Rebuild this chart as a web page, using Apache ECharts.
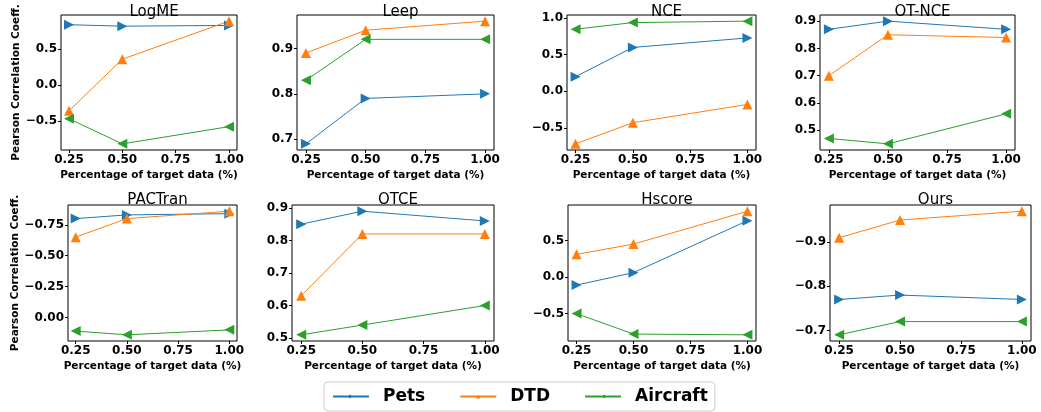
<!DOCTYPE html>
<html>
<head>
<meta charset="utf-8">
<script src="https://cdn.jsdelivr.net/npm/echarts@6/dist/echarts.min.js"></script>
<style>
  html, body { margin: 0; padding: 0; background: #fff; }
  #chart { width: 1041px; height: 412px; }
</style>
</head>
<body>
<div id="chart"></div>
<script>
// 横轴：目标数据比例
const fractions = [0.25, 0.5, 1.0];
const xTicks = [0.25, 0.5, 0.75, 1.0];
const methods = ['LogME', 'Leep', 'NCE', 'OT-NCE', 'PACTran', 'OTCE', 'Hscore', 'Ours'];

// 每个方法三个点
const petsValues = [
  [0.84, 0.82, 0.83],
  [0.69, 0.79, 0.80],
  [0.20, 0.60, 0.73],
  [0.87, 0.90, 0.87],
  [-0.80, -0.83, -0.84],
  [0.85, 0.89, 0.86],
  [-0.11, 0.06, 0.77],
  [-0.77, -0.78, -0.77]
];
const dtdValues = [
  [-0.36, 0.36, 0.89],
  [0.89, 0.94, 0.96],
  [-0.72, -0.43, -0.18],
  [0.70, 0.85, 0.84],
  [-0.65, -0.80, -0.86],
  [0.63, 0.82, 0.82],
  [0.31, 0.45, 0.90],
  [-0.91, -0.95, -0.97]
];
const aircraftValues = [
  [-0.47, -0.82, -0.58],
  [0.83, 0.92, 0.92],
  [0.85, 0.94, 0.96],
  [0.47, 0.45, 0.56],
  [0.11, 0.14, 0.10],
  [0.51, 0.54, 0.60],
  [-0.50, -0.78, -0.79],
  [-0.69, -0.72, -0.72]
];

// y轴刻度
const yTicks = [
  [-0.5, 0, 0.5],
  [0.7, 0.8, 0.9],
  [-0.5, 0, 0.5, 1.0],
  [0.5, 0.6, 0.7, 0.8, 0.9],
  [-0.75, -0.5, -0.25, 0],
  [0.5, 0.6, 0.7, 0.8, 0.9],
  [-0.5, 0, 0.5],
  [-0.9, -0.8, -0.7]
];
const yDecimals = [1, 1, 1, 1, 2, 1, 1, 1];
const yInverse = [false, false, false, false, true, false, false, true];

// 子图位置
const boxes = [
  [61, 15, 176, 135], [297, 15, 197, 135], [567, 15, 189, 135], [820, 15, 195, 135],
  [68, 205, 169, 136], [292, 205, 202, 136], [568, 205, 188, 136], [830, 205, 201, 136]
];

const FONT = 'DejaVu Sans';
const seriesDefs = [
  { name: 'Pets', color: '#1f77b4', rotate: -90, values: petsValues },
  { name: 'DTD', color: '#ff7f0e', rotate: 0, values: dtdValues },
  { name: 'Aircraft', color: '#2ca02c', rotate: 90, values: aircraftValues }
];

function fmt(v, d) {
  return (v < 0 ? '\u2212' : '') + Math.abs(v).toFixed(d);
}

let grids = [], xAxes = [], yAxes = [], titles = [], series = [];
for (let i = 0; i < methods.length; i++) {
  const b = boxes[i];
  grids.push({
    left: b[0], top: b[1], width: b[2], height: b[3],
    show: true, borderColor: '#000', borderWidth: 1, backgroundColor: 'transparent'
  });
  titles.push({
    text: methods[i], left: b[0] + b[2] / 2, top: i < 4 ? 0 : 188, textAlign: 'center',
    textStyle: { fontFamily: FONT, fontSize: 15, fontWeight: 'normal', color: '#000' }
  });
  xAxes.push({
    type: 'value', gridIndex: i, min: 0.2125, max: 1.0375,
    axisLine: { show: false, onZero: false },
    axisTick: { show: true, length: 3, customValues: xTicks, lineStyle: { color: '#000' } },
    axisLabel: {
      customValues: xTicks, margin: 4, color: '#000',
      fontFamily: FONT, fontSize: 12, fontWeight: 700,
      formatter: v => v.toFixed(2)
    },
    splitLine: { show: false },
    name: 'Percentage of target data (%)', nameLocation: 'middle', nameGap: 20,
    nameTextStyle: { fontFamily: FONT, fontSize: 10.5, fontWeight: 'bold', color: '#000' }
  });
  let all = petsValues[i].concat(dtdValues[i], aircraftValues[i]);
  let lo = Math.min.apply(null, all), hi = Math.max.apply(null, all);
  let pad = (hi - lo) * 0.05;
  let dec = yDecimals[i];
  let ya = {
    type: 'value', gridIndex: i, min: lo - pad, max: hi + pad, inverse: yInverse[i],
    axisLine: { show: false, onZero: false },
    axisTick: { show: true, length: 3, customValues: yTicks[i], lineStyle: { color: '#000' } },
    axisLabel: {
      customValues: yTicks[i], margin: 4, color: '#000',
      fontFamily: FONT, fontSize: 12, fontWeight: 700,
      formatter: v => fmt(v, dec)
    },
    splitLine: { show: false }
  };
  if (i % 4 === 0) {
    ya.name = 'Pearson Correlation Coeff.';
    ya.nameLocation = 'middle';
    ya.nameRotate = 90;
    ya.nameGap = b[0] - 22;
    ya.nameTextStyle = { fontFamily: FONT, fontSize: 10.5, fontWeight: 'bold', color: '#000' };
  }
  yAxes.push(ya);
  seriesDefs.forEach(function (s) {
    series.push({
      name: s.name, type: 'line', xAxisIndex: i, yAxisIndex: i,
      data: fractions.map((f, j) => [f, s.values[i][j]]),
      symbol: 'triangle', symbolSize: 10, symbolRotate: s.rotate,
      showSymbol: true,
      lineStyle: { width: 1, color: s.color },
      itemStyle: { color: s.color },
      emphasis: { disabled: true }
    });
  });
}

const chart = echarts.init(document.getElementById('chart'));
chart.setOption({
  animation: false,
  title: titles,
  grid: grids,
  xAxis: xAxes,
  yAxis: yAxes,
  legend: {
    data: ['Pets', 'DTD', 'Aircraft'],
    left: 324, top: 382,
    itemWidth: 36, itemHeight: 5, itemGap: 34,
    padding: [6, 7, 6, 8],
    borderColor: '#ccc', borderWidth: 1, borderRadius: 4,
    textStyle: { fontFamily: FONT, fontSize: 17, fontWeight: 'bold', color: '#000', padding: [0, 0, 0, 9] }
  },
  series: series
});
</script>
</body>
</html>
